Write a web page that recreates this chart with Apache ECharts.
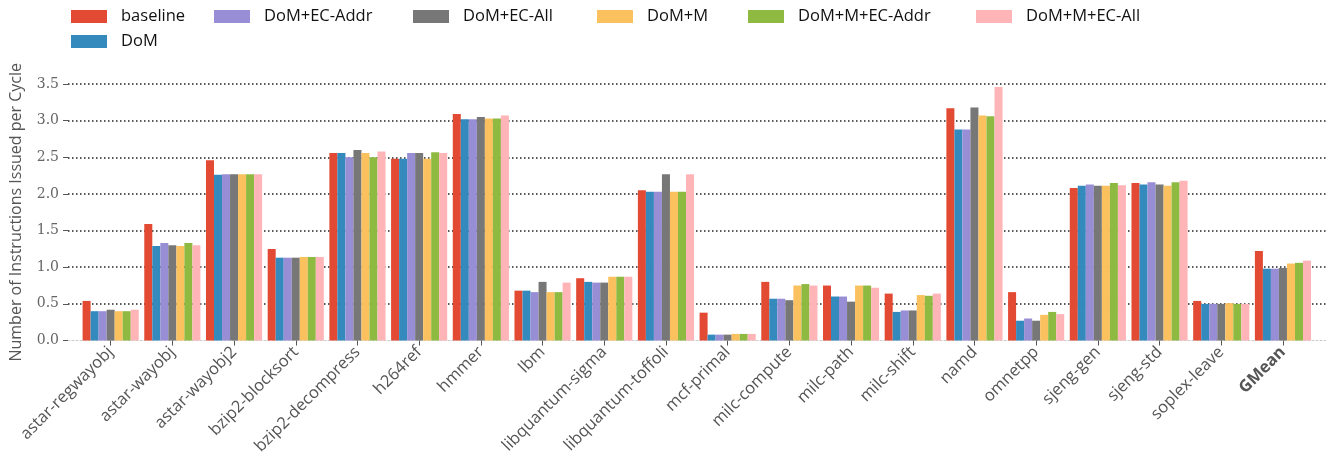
<!DOCTYPE html>
<html>
<head>
<meta charset="utf-8">
<script src="https://cdn.jsdelivr.net/npm/echarts@6/dist/echarts.min.js"></script>
<style>
  html, body { margin: 0; padding: 0; background: #ffffff; }
  #chart { width: 1326px; height: 462px; }
</style>
</head>
<body>
<div id="chart"></div>
<script>
// Benchmarks on the x axis
const categories = ['astar-regwayobj', 'astar-wayobj', 'astar-wayobj2', 'bzip2-blocksort',
  'bzip2-decompress', 'h264ref', 'hmmer', 'lbm', 'libquantum-sigma', 'libquantum-toffoli',
  'mcf-primal', 'milc-compute', 'milc-path', 'milc-shift', 'namd', 'omnetpp', 'sjeng-gen',
  'sjeng-std', 'soplex-leave', 'GMean'];

// Instructions issued per cycle for each configuration
const baseline   = [0.54, 1.59, 2.46, 1.25, 2.56, 2.48, 3.09, 0.68, 0.85, 2.05, 0.38, 0.80, 0.75, 0.64, 3.17, 0.66, 2.08, 2.15, 0.54, 1.22];
const dom        = [0.40, 1.29, 2.26, 1.13, 2.56, 2.48, 3.02, 0.68, 0.80, 2.03, 0.08, 0.57, 0.60, 0.39, 2.88, 0.27, 2.11, 2.13, 0.50, 0.98];
const domEcAddr  = [0.40, 1.33, 2.27, 1.13, 2.50, 2.56, 3.02, 0.66, 0.79, 2.03, 0.08, 0.57, 0.60, 0.41, 2.88, 0.30, 2.13, 2.16, 0.50, 0.98];
const domEcAll   = [0.42, 1.30, 2.27, 1.13, 2.60, 2.56, 3.05, 0.80, 0.79, 2.27, 0.08, 0.55, 0.53, 0.41, 3.18, 0.27, 2.11, 2.13, 0.50, 0.99];
const domM       = [0.40, 1.29, 2.27, 1.14, 2.56, 2.48, 3.03, 0.66, 0.87, 2.03, 0.09, 0.75, 0.75, 0.62, 3.07, 0.35, 2.11, 2.11, 0.51, 1.05];
const domMEcAddr = [0.40, 1.33, 2.27, 1.14, 2.50, 2.57, 3.03, 0.66, 0.87, 2.03, 0.09, 0.77, 0.75, 0.61, 3.06, 0.39, 2.15, 2.16, 0.50, 1.06];
const domMEcAll  = [0.42, 1.30, 2.27, 1.14, 2.58, 2.56, 3.07, 0.79, 0.87, 2.27, 0.09, 0.75, 0.72, 0.64, 3.46, 0.36, 2.12, 2.18, 0.50, 1.09];

const seriesNames = ['baseline', 'DoM', 'DoM+EC-Addr', 'DoM+EC-All', 'DoM+M', 'DoM+M+EC-Addr', 'DoM+M+EC-All'];
const seriesData = [baseline, dom, domEcAddr, domEcAll, domM, domMEcAddr, domMEcAll];
const colors = ['#E24A33', '#348ABD', '#988ED5', '#777777', '#FBC15E', '#8EBA42', '#FFB5B8'];

// y-axis ticks
const yMin = 0, yMax = 3.5, yStep = 0.5;

const chart = echarts.init(document.getElementById('chart'), null, { renderer: 'canvas' });

const sansFont = 'Open Sans';
const serifFont = 'DejaVu Serif';
const plotTop = 84, plotBottom = 121.5;

// Legend laid out in columns: [baseline, DoM] then one entry per column
const legendColumns = [
  { left: 71,  names: ['baseline', 'DoM'] },
  { left: 214, names: ['DoM+EC-Addr'] },
  { left: 413, names: ['DoM+EC-All'] },
  { left: 597, names: ['DoM+M'] },
  { left: 748, names: ['DoM+M+EC-Addr'] },
  { left: 976, names: ['DoM+M+EC-All'] }
];

const legends = legendColumns.map(col => ({
  left: col.left,
  top: 5,
  orient: 'vertical',
  data: col.names,
  icon: 'rect',
  itemWidth: 36,
  itemHeight: 13,
  itemGap: 2,
  padding: 0,
  selectedMode: false,
  textStyle: {
    fontFamily: sansFont,
    fontSize: 16.5,
    color: '#111111',
    padding: [0, 0, 0, 9],
    lineHeight: 23
  }
}));

const option = {
  backgroundColor: '#ffffff',
  animation: false,
  color: colors,
  legend: legends,
  grid: [
    // Frame carrying the y scale and its dotted gridlines
    { left: 59, right: 0, top: plotTop, bottom: plotBottom, containLabel: false },
    // Frame carrying the grouped bars
    { left: 79.8, width: 1234, top: plotTop, bottom: plotBottom, containLabel: false }
  ],
  xAxis: [
    {
      gridIndex: 0, type: 'value', min: 0, max: 1,
      axisLabel: { show: false }, axisTick: { show: false }, splitLine: { show: false },
      axisLine: { show: true, lineStyle: { color: '#cccccc', width: 1, type: [2, 2] } }
    },
    {
      gridIndex: 1, type: 'category', data: categories,
      axisLine: { show: false },
      axisTick: { show: true, alignWithLabel: true, length: 5, lineStyle: { color: '#555555', width: 1 } },
      axisLabel: {
        rotate: 45, margin: 9, interval: 0,
        fontFamily: sansFont, fontSize: 16.5, color: '#555555',
        formatter: v => v === 'GMean' ? '{b|' + v + '}' : v,
        rich: { b: { fontFamily: sansFont, fontSize: 16.5, fontWeight: 'bold', color: '#555555' } }
      }
    }
  ],
  yAxis: [
    {
      gridIndex: 0, type: 'value', min: yMin, max: yMax, interval: yStep,
      name: 'Number of Instructions Issued per Cycle',
      nameLocation: 'middle', nameGap: 44,
      nameTextStyle: { fontFamily: sansFont, fontSize: 16, color: '#555555' },
      axisLine: { show: false },
      axisTick: { show: true, length: 5, lineStyle: { color: '#555555', width: 1 } },
      axisLabel: {
        margin: 9, fontFamily: serifFont, fontSize: 14, color: '#666666',
        formatter: v => v.toFixed(1)
      },
      splitLine: {
        show: true, showMinLine: false,
        lineStyle: { color: '#222222', width: 1.5, type: [1.5, 2.5] }
      }
    },
    {
      gridIndex: 1, type: 'value', min: yMin, max: yMax, interval: yStep, show: false,
      splitLine: { show: false }
    }
  ],
  series: seriesNames.map((name, i) => ({
    name: name,
    type: 'bar',
    xAxisIndex: 1,
    yAxisIndex: 1,
    data: seriesData[i],
    barGap: '0%',
    barCategoryGap: '9%',
    itemStyle: { color: colors[i] },
    z: 3
  }))
};

chart.setOption(option);
</script>
</body>
</html>
